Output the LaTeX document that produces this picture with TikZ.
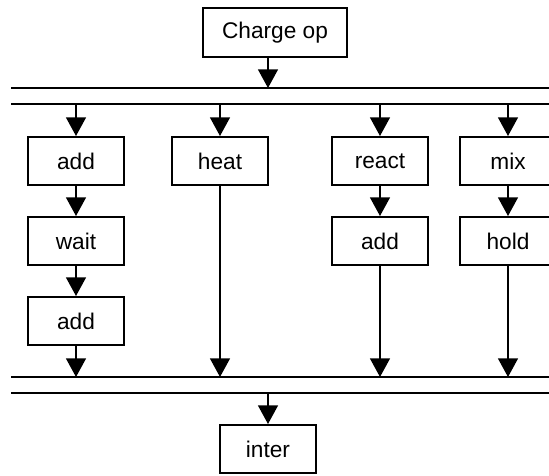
\documentclass[tikz,border=0pt]{standalone}
\usepackage{fontspec}
\setmainfont{Liberation Sans}
\usetikzlibrary{arrows.meta}

\tikzset{
    opbox/.style={draw, line width=1.5pt, minimum width=72pt, minimum height=36pt, inner sep=0pt, font=\fontsize{17}{20}\selectfont},
    flow/.style={line width=1pt, -{Triangle[width=15pt, length=14pt]}},
    bar/.style={line width=1.5pt}
}

\begin{document}
\begin{tikzpicture}[x=0.75pt, y=-0.75pt]

    \useasboundingbox (0, 0) rectangle (549, 475);

    %% ------
    %% Boxes on fixed coordinates (pixels of the sketch),
    %% bars are plain lines with named coordinates
    %% ----

    % Charge op
    \node[opbox, minimum width=108pt, minimum height=36.75pt] (charge) at (275, 32.5) {Charge op};

    % top bars
    \coordinate (top1) at (11, 88);
    \coordinate (top2) at (11, 104);
    \coordinate (topin) at (268, 88);
    \draw[bar] (top1) -- (551, 88);
    \draw[bar] (top2) -- (551, 104);
    \draw[flow] (charge.south -| topin) -- (topin);

    % column 1: add - wait - add
    \node[opbox] (add1) at (76, 161) {add};
    \node[opbox] (wait) at (76, 241) {wait};
    \node[opbox] (add2) at (76, 321) {add};
    \draw[flow] (add1 |- top2) -- (add1.north);
    \draw[flow] (add1) -- (wait);
    \draw[flow] (wait) -- (add2);

    % column 2: heat
    \node[opbox] (heat) at (220, 161) {heat};
    \draw[flow] (heat |- top2) -- (heat.north);

    % column 3: react - add
    \node[opbox] (react) at (380, 161) {react};
    \node[opbox] (add3) at (380, 241) {add};
    \draw[flow] (react |- top2) -- (react.north);
    \draw[flow] (react) -- (add3);

    % column 4: mix - hold
    \node[opbox] (mix) at (508, 161) {mix};
    \node[opbox] (hold) at (508, 241) {hold};
    \draw[flow] (mix |- top2) -- (mix.north);
    \draw[flow] (mix) -- (hold);

    % bottom bars
    \coordinate (bot1) at (11, 377);
    \coordinate (bot2) at (11, 393);
    \coordinate (botout) at (268, 393);
    \draw[bar] (bot1) -- (551, 377);
    \draw[bar] (bot2) -- (551, 393);
    \draw[flow] (add2.south) -- (add2 |- bot1);
    \draw[flow] (heat.south) -- (heat |- bot1);
    \draw[flow] (add3.south) -- (add3 |- bot1);
    \draw[flow] (hold.south) -- (hold |- bot1);

    % inter
    \node[opbox] (inter) at (268, 449) {inter};
    \draw[flow] (botout) -- (inter.north);

\end{tikzpicture}
\end{document}
